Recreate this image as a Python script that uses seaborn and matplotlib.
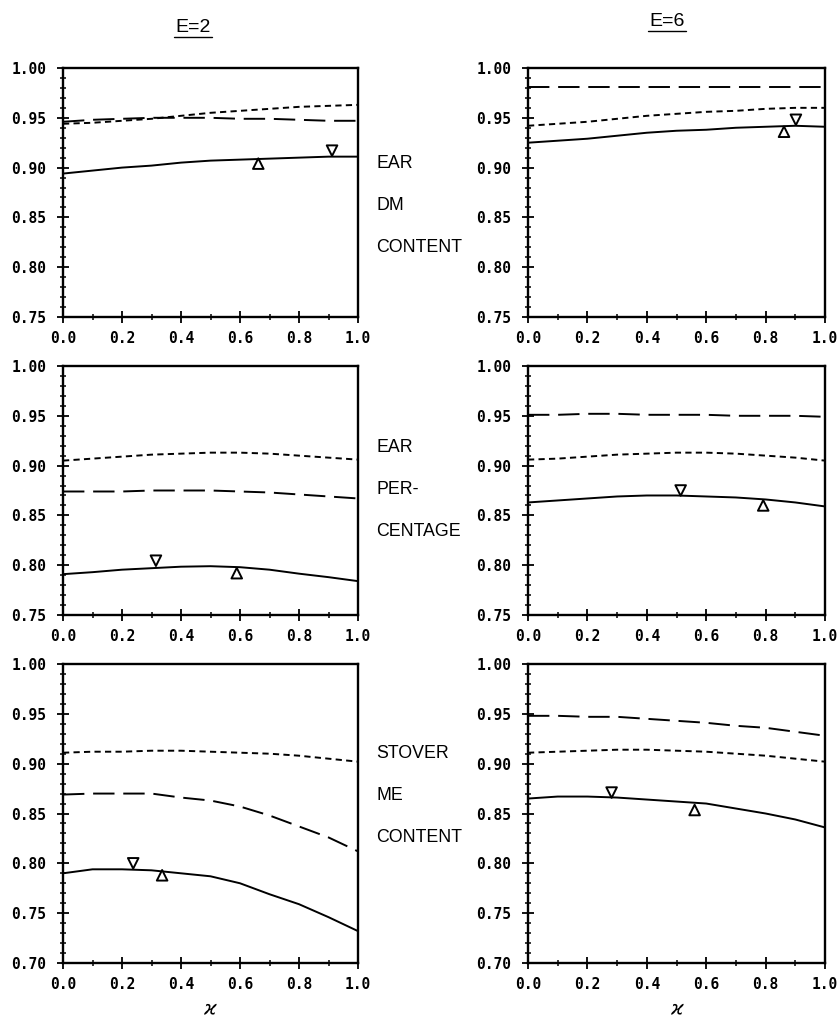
import numpy as np
import pandas as pd
import matplotlib
matplotlib.use("Agg")
import matplotlib.pyplot as plt
from matplotlib.lines import Line2D
from matplotlib.ticker import MultipleLocator, FormatStrFormatter
import seaborn as sns

sns.set_theme(style="white")
plt.rcParams['font.family'] = ['DejaVu Sans']

# ---------------- data ----------------
x_grid = [0.0, 0.1, 0.2, 0.3, 0.4, 0.5, 0.6, 0.7, 0.8, 0.9, 1.0]
series_names = ["solid", "long dash", "short dash"]

# E=2 column
e2_ear_dm_solid = [0.894, 0.897, 0.900, 0.902, 0.905, 0.907, 0.908, 0.909, 0.910, 0.911, 0.911]
e2_ear_dm_long = [0.946, 0.948, 0.949, 0.950, 0.950, 0.950, 0.949, 0.949, 0.948, 0.947, 0.947]
e2_ear_dm_short = [0.944, 0.945, 0.947, 0.949, 0.952, 0.955, 0.957, 0.959, 0.961, 0.962, 0.963]
e2_ear_pct_solid = [0.791, 0.793, 0.7955, 0.797, 0.7985, 0.799, 0.798, 0.7955, 0.7915, 0.788, 0.784]
e2_ear_pct_long = [0.874, 0.874, 0.874, 0.875, 0.875, 0.875, 0.874, 0.873, 0.871, 0.869, 0.867]
e2_ear_pct_short = [0.905, 0.907, 0.909, 0.911, 0.912, 0.913, 0.913, 0.912, 0.910, 0.908, 0.906]
e2_stover_solid = [0.790, 0.794, 0.794, 0.793, 0.790, 0.787, 0.780, 0.769, 0.759, 0.746, 0.732]
e2_stover_long = [0.869, 0.870, 0.870, 0.870, 0.866, 0.863, 0.857, 0.848, 0.837, 0.826, 0.812]
e2_stover_short = [0.911, 0.912, 0.912, 0.913, 0.913, 0.912, 0.911, 0.910, 0.908, 0.905, 0.902]

# E=6 column
e6_ear_dm_solid = [0.925, 0.927, 0.929, 0.932, 0.935, 0.937, 0.938, 0.940, 0.941, 0.942, 0.941]
e6_ear_dm_long = [0.981, 0.981, 0.981, 0.981, 0.981, 0.981, 0.981, 0.981, 0.981, 0.981, 0.981]
e6_ear_dm_short = [0.942, 0.944, 0.946, 0.949, 0.952, 0.954, 0.956, 0.957, 0.959, 0.960, 0.960]
e6_ear_pct_solid = [0.863, 0.865, 0.867, 0.869, 0.870, 0.870, 0.869, 0.868, 0.866, 0.863, 0.859]
e6_ear_pct_long = [0.951, 0.951, 0.952, 0.952, 0.951, 0.951, 0.951, 0.950, 0.950, 0.950, 0.949]
e6_ear_pct_short = [0.906, 0.907, 0.909, 0.911, 0.912, 0.913, 0.913, 0.912, 0.910, 0.908, 0.905]
e6_stover_solid = [0.865, 0.867, 0.867, 0.866, 0.864, 0.862, 0.860, 0.855, 0.850, 0.844, 0.836]
e6_stover_long = [0.948, 0.948, 0.947, 0.947, 0.945, 0.943, 0.941, 0.938, 0.936, 0.932, 0.928]
e6_stover_short = [0.911, 0.912, 0.913, 0.914, 0.914, 0.913, 0.912, 0.910, 0.908, 0.905, 0.902]

# observed points: (x, y) for up-triangle and down-triangle
e2_ear_dm_up, e2_ear_dm_down = (0.662, 0.904), (0.912, 0.917)
e2_ear_pct_up, e2_ear_pct_down = (0.589, 0.792), (0.315, 0.8045)
e2_stover_up, e2_stover_down = (0.336, 0.788), (0.238, 0.800)
e6_ear_dm_up, e6_ear_dm_down = (0.862, 0.936), (0.902, 0.948)
e6_ear_pct_up, e6_ear_pct_down = (0.792, 0.860), (0.514, 0.875)
e6_stover_up, e6_stover_down = (0.561, 0.8535), (0.2815, 0.871)

column_titles = ["E=2", "E=6"]
row_labels = [["EAR", "DM", "CONTENT"], ["EAR", "PER-", "CENTAGE"], ["STOVER", "ME", "CONTENT"]]
y_limits = [(0.75, 1.00), (0.75, 1.00), (0.70, 1.00)]
x_label = "ϰ"

panels = [
    [(e2_ear_dm_solid, e2_ear_dm_long, e2_ear_dm_short, e2_ear_dm_up, e2_ear_dm_down),
     (e6_ear_dm_solid, e6_ear_dm_long, e6_ear_dm_short, e6_ear_dm_up, e6_ear_dm_down)],
    [(e2_ear_pct_solid, e2_ear_pct_long, e2_ear_pct_short, e2_ear_pct_up, e2_ear_pct_down),
     (e6_ear_pct_solid, e6_ear_pct_long, e6_ear_pct_short, e6_ear_pct_up, e6_ear_pct_down)],
    [(e2_stover_solid, e2_stover_long, e2_stover_short, e2_stover_up, e2_stover_down),
     (e6_stover_solid, e6_stover_long, e6_stover_short, e6_stover_up, e6_stover_down)],
]

# ---------------- figure ----------------
W, H = 840, 1023
fig = plt.figure(figsize=(W / 100, H / 100), dpi=100)
fig.patch.set_facecolor("white")

col_px = [(63, 358), (528, 825)]
row_px = [(68, 317), (366, 615), (664, 963)]

dash_map = {"solid": "", "long dash": (11, 4.5), "short dash": (3.2, 2.2)}
tick_font = dict(family="DejaVu Sans Mono", weight="bold", size=10.5)

for r in range(3):
    for c in range(2):
        x0, x1 = col_px[c]
        y0, y1 = row_px[r]
        ax = fig.add_axes([x0 / W, 1 - y1 / H, (x1 - x0) / W, (y1 - y0) / H])
        solid, long_, short, up, down = panels[r][c]
        df = pd.DataFrame({
            "x": x_grid * 3,
            "y": list(solid) + list(long_) + list(short),
            "series": ["solid"] * 11 + ["long dash"] * 11 + ["short dash"] * 11,
        })
        sns.lineplot(data=df, x="x", y="y", style="series", dashes=dash_map,
                     color="black", linewidth=1.4, legend=False, ax=ax,
                     estimator=None, sort=True)
        pts = pd.DataFrame({"x": [up[0], down[0]], "y": [up[1], down[1]],
                            "kind": ["up", "down"]})
        sns.scatterplot(data=pts, x="x", y="y", style="kind",
                        markers={"up": "^", "down": "v"}, s=58,
                        facecolor="white", edgecolor="black", linewidth=1.4,
                        legend=False, ax=ax, zorder=5)
        ax.set_xlim(0, 1)
        ax.set_ylim(*y_limits[r])
        ax.set_xlabel("")
        ax.set_ylabel("")
        ax.xaxis.set_major_locator(MultipleLocator(0.2))
        ax.xaxis.set_minor_locator(MultipleLocator(0.1))
        ax.yaxis.set_major_locator(MultipleLocator(0.05))
        ax.yaxis.set_minor_locator(MultipleLocator(0.01))
        ax.xaxis.set_major_formatter(FormatStrFormatter("%.1f"))
        ax.yaxis.set_major_formatter(FormatStrFormatter("%.2f"))
        ax.tick_params(axis="both", which="major", direction="inout", length=8,
                       width=1.3, color="black", pad=6, bottom=True, left=True,
                       top=False, right=False)
        ax.tick_params(axis="y", which="major", pad=8)
        ax.tick_params(axis="both", which="minor", direction="inout", length=5,
                       width=1.1, color="black", bottom=True, left=True,
                       top=False, right=False)
        for lab in ax.get_xticklabels() + ax.get_yticklabels():
            lab.set_fontfamily(tick_font["family"])
            lab.set_fontweight(tick_font["weight"])
            lab.set_fontsize(tick_font["size"])
            lab.set_color("black")
        for sp in ax.spines.values():
            sp.set_visible(True)
            sp.set_color("black")
            sp.set_linewidth(1.7)
        ax.grid(False)

# row side labels
label_rows_px = [[163, 205, 247], [447, 490, 531], [754, 796, 837]]
for r in range(3):
    for txt, ypx in zip(row_labels[r], label_rows_px[r]):
        fig.text(376 / W, 1 - ypx / H, txt, ha="left", va="center",
                 fontsize=12.8, color="black", family="Liberation Sans")

# column titles with underline
title_px = [(193, 27), (667, 21)]
for (cx, cy), t in zip(title_px, column_titles):
    fig.text(cx / W, 1 - cy / H, t, ha="center", va="center", fontsize=14,
             color="black", family="Liberation Sans")
    fig.add_artist(Line2D([(cx - 19) / W, (cx + 19) / W],
                          [1 - (cy + 10) / H, 1 - (cy + 10) / H],
                          color="black", linewidth=1.0, transform=fig.transFigure))

# x axis labels
for cx in [210, 677]:
    fig.text(cx / W, 1 - 1008 / H, x_label, ha="center", va="center",
             fontsize=14, style="italic", color="black")

fig.savefig("out.png", dpi=100, facecolor="white")
